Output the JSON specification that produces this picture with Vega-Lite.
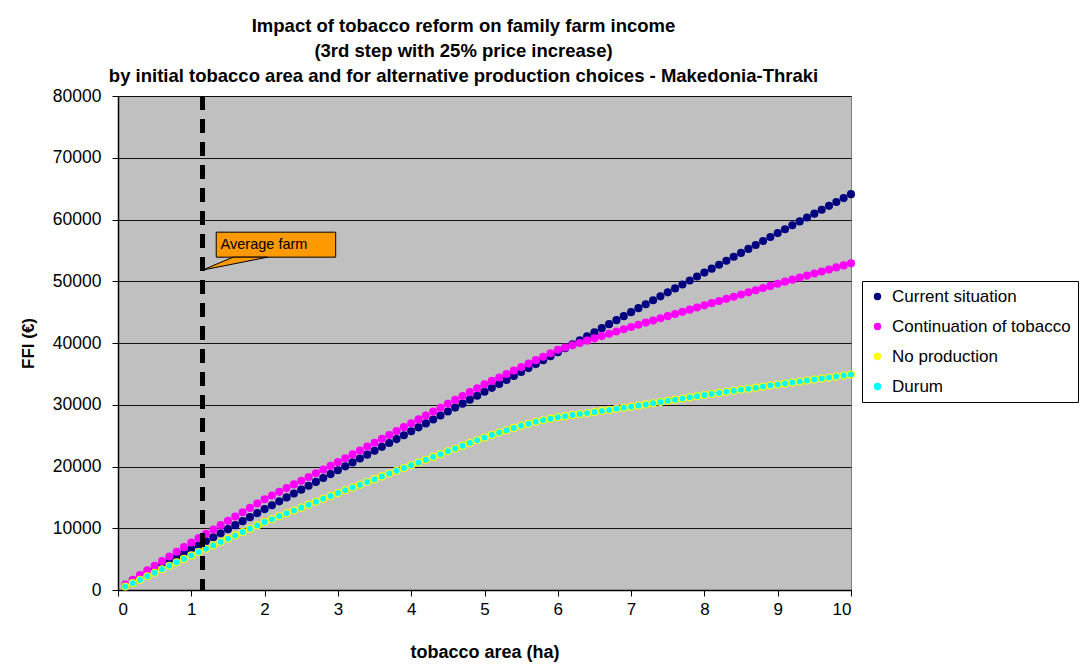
{
  "$schema": "https://vega.github.io/schema/vega-lite/v6.json",
  "width": 733,
  "height": 494,
  "autosize": "none",
  "padding": {"left": 118, "top": 96, "right": 235, "bottom": 76},
  "background": "white",
  "title": {
    "text": ["Impact of  tobacco reform on family farm income", "(3rd step with 25% price increase)", "by initial tobacco area and for alternative production choices - Makedonia-Thraki"],
    "font": "Liberation Sans Narrow, Liberation Sans",
    "fontSize": 18.5,
    "fontWeight": "bold",
    "color": "black",
    "lineHeight": 25,
    "anchor": "middle",
    "frame": "group",
    "dx": -21,
    "offset": 2
  },
  "config": {
    "view": {"fill": "#C0C0C0", "stroke": "#808080", "strokeWidth": 1},
    "axis": {"labelColor": "black", "titleColor": "black", "domainColor": "black", "tickColor": "black"}
  },
  "datasets": {
    "series": [
      {"x": 0.1, "cur": 600, "con": 900, "nop": 550, "dur": 550},
      {"x": 0.2, "cur": 1270, "con": 1660, "nop": 1110, "dur": 1110},
      {"x": 0.3, "cur": 1930, "con": 2410, "nop": 1670, "dur": 1670},
      {"x": 0.4, "cur": 2600, "con": 3170, "nop": 2230, "dur": 2230},
      {"x": 0.5, "cur": 3270, "con": 3920, "nop": 2790, "dur": 2790},
      {"x": 0.6, "cur": 3930, "con": 4680, "nop": 3360, "dur": 3360},
      {"x": 0.7, "cur": 4600, "con": 5430, "nop": 3920, "dur": 3920},
      {"x": 0.8, "cur": 5270, "con": 6190, "nop": 4480, "dur": 4480},
      {"x": 0.9, "cur": 5930, "con": 6940, "nop": 5040, "dur": 5040},
      {"x": 1.0, "cur": 6600, "con": 7700, "nop": 5600, "dur": 5600},
      {"x": 1.1, "cur": 7250, "con": 8400, "nop": 6140, "dur": 6140},
      {"x": 1.2, "cur": 7900, "con": 9100, "nop": 6680, "dur": 6680},
      {"x": 1.3, "cur": 8550, "con": 9800, "nop": 7220, "dur": 7220},
      {"x": 1.4, "cur": 9200, "con": 10500, "nop": 7760, "dur": 7760},
      {"x": 1.5, "cur": 9850, "con": 11200, "nop": 8300, "dur": 8300},
      {"x": 1.6, "cur": 10500, "con": 11900, "nop": 8840, "dur": 8840},
      {"x": 1.7, "cur": 11150, "con": 12600, "nop": 9380, "dur": 9380},
      {"x": 1.8, "cur": 11800, "con": 13300, "nop": 9920, "dur": 9920},
      {"x": 1.9, "cur": 12450, "con": 14000, "nop": 10460, "dur": 10460},
      {"x": 2.0, "cur": 13100, "con": 14700, "nop": 11000, "dur": 11000},
      {"x": 2.1, "cur": 13730, "con": 15300, "nop": 11470, "dur": 11470},
      {"x": 2.2, "cur": 14360, "con": 15900, "nop": 11940, "dur": 11940},
      {"x": 2.3, "cur": 14990, "con": 16500, "nop": 12410, "dur": 12410},
      {"x": 2.4, "cur": 15620, "con": 17100, "nop": 12880, "dur": 12880},
      {"x": 2.5, "cur": 16250, "con": 17700, "nop": 13350, "dur": 13350},
      {"x": 2.6, "cur": 16880, "con": 18300, "nop": 13820, "dur": 13820},
      {"x": 2.7, "cur": 17510, "con": 18900, "nop": 14290, "dur": 14290},
      {"x": 2.8, "cur": 18140, "con": 19500, "nop": 14760, "dur": 14760},
      {"x": 2.9, "cur": 18770, "con": 20100, "nop": 15230, "dur": 15230},
      {"x": 3.0, "cur": 19400, "con": 20700, "nop": 15700, "dur": 15700},
      {"x": 3.1, "cur": 20030, "con": 21330, "nop": 16150, "dur": 16150},
      {"x": 3.2, "cur": 20660, "con": 21960, "nop": 16600, "dur": 16600},
      {"x": 3.3, "cur": 21290, "con": 22590, "nop": 17050, "dur": 17050},
      {"x": 3.4, "cur": 21920, "con": 23220, "nop": 17500, "dur": 17500},
      {"x": 3.5, "cur": 22550, "con": 23850, "nop": 17950, "dur": 17950},
      {"x": 3.6, "cur": 23180, "con": 24480, "nop": 18400, "dur": 18400},
      {"x": 3.7, "cur": 23810, "con": 25110, "nop": 18850, "dur": 18850},
      {"x": 3.8, "cur": 24440, "con": 25740, "nop": 19300, "dur": 19300},
      {"x": 3.9, "cur": 25070, "con": 26370, "nop": 19750, "dur": 19750},
      {"x": 4.0, "cur": 25700, "con": 27000, "nop": 20200, "dur": 20200},
      {"x": 4.1, "cur": 26340, "con": 27630, "nop": 20650, "dur": 20650},
      {"x": 4.2, "cur": 26980, "con": 28260, "nop": 21100, "dur": 21100},
      {"x": 4.3, "cur": 27620, "con": 28890, "nop": 21550, "dur": 21550},
      {"x": 4.4, "cur": 28260, "con": 29520, "nop": 22000, "dur": 22000},
      {"x": 4.5, "cur": 28900, "con": 30150, "nop": 22450, "dur": 22450},
      {"x": 4.6, "cur": 29540, "con": 30780, "nop": 22900, "dur": 22900},
      {"x": 4.7, "cur": 30180, "con": 31410, "nop": 23350, "dur": 23350},
      {"x": 4.8, "cur": 30820, "con": 32040, "nop": 23800, "dur": 23800},
      {"x": 4.9, "cur": 31460, "con": 32670, "nop": 24250, "dur": 24250},
      {"x": 5.0, "cur": 32100, "con": 33300, "nop": 24700, "dur": 24700},
      {"x": 5.1, "cur": 32740, "con": 33860, "nop": 25100, "dur": 25100},
      {"x": 5.2, "cur": 33380, "con": 34420, "nop": 25500, "dur": 25500},
      {"x": 5.3, "cur": 34020, "con": 34980, "nop": 25880, "dur": 25880},
      {"x": 5.4, "cur": 34660, "con": 35540, "nop": 26250, "dur": 26250},
      {"x": 5.5, "cur": 35300, "con": 36100, "nop": 26600, "dur": 26600},
      {"x": 5.6, "cur": 35940, "con": 36660, "nop": 26930, "dur": 26930},
      {"x": 5.7, "cur": 36580, "con": 37220, "nop": 27230, "dur": 27230},
      {"x": 5.8, "cur": 37220, "con": 37780, "nop": 27500, "dur": 27500},
      {"x": 5.9, "cur": 37860, "con": 38340, "nop": 27750, "dur": 27750},
      {"x": 6.0, "cur": 38500, "con": 38900, "nop": 27980, "dur": 27980},
      {"x": 6.1, "cur": 39150, "con": 39270, "nop": 28150, "dur": 28150},
      {"x": 6.2, "cur": 39800, "con": 39640, "nop": 28320, "dur": 28320},
      {"x": 6.3, "cur": 40450, "con": 40010, "nop": 28490, "dur": 28490},
      {"x": 6.4, "cur": 41100, "con": 40380, "nop": 28660, "dur": 28660},
      {"x": 6.5, "cur": 41750, "con": 40750, "nop": 28830, "dur": 28830},
      {"x": 6.6, "cur": 42400, "con": 41120, "nop": 29000, "dur": 29000},
      {"x": 6.7, "cur": 43050, "con": 41490, "nop": 29170, "dur": 29170},
      {"x": 6.8, "cur": 43700, "con": 41860, "nop": 29340, "dur": 29340},
      {"x": 6.9, "cur": 44350, "con": 42230, "nop": 29510, "dur": 29510},
      {"x": 7.0, "cur": 45000, "con": 42600, "nop": 29680, "dur": 29680},
      {"x": 7.1, "cur": 45640, "con": 42950, "nop": 29870, "dur": 29870},
      {"x": 7.2, "cur": 46280, "con": 43300, "nop": 30060, "dur": 30060},
      {"x": 7.3, "cur": 46920, "con": 43650, "nop": 30250, "dur": 30250},
      {"x": 7.4, "cur": 47560, "con": 44000, "nop": 30440, "dur": 30440},
      {"x": 7.5, "cur": 48200, "con": 44350, "nop": 30630, "dur": 30630},
      {"x": 7.6, "cur": 48840, "con": 44700, "nop": 30820, "dur": 30820},
      {"x": 7.7, "cur": 49480, "con": 45050, "nop": 31010, "dur": 31010},
      {"x": 7.8, "cur": 50120, "con": 45400, "nop": 31200, "dur": 31200},
      {"x": 7.9, "cur": 50760, "con": 45750, "nop": 31390, "dur": 31390},
      {"x": 8.0, "cur": 51400, "con": 46100, "nop": 31580, "dur": 31580},
      {"x": 8.1, "cur": 52040, "con": 46450, "nop": 31750, "dur": 31750},
      {"x": 8.2, "cur": 52680, "con": 46800, "nop": 31920, "dur": 31920},
      {"x": 8.3, "cur": 53320, "con": 47150, "nop": 32090, "dur": 32090},
      {"x": 8.4, "cur": 53960, "con": 47500, "nop": 32260, "dur": 32260},
      {"x": 8.5, "cur": 54600, "con": 47850, "nop": 32430, "dur": 32430},
      {"x": 8.6, "cur": 55240, "con": 48200, "nop": 32600, "dur": 32600},
      {"x": 8.7, "cur": 55880, "con": 48550, "nop": 32770, "dur": 32770},
      {"x": 8.8, "cur": 56520, "con": 48900, "nop": 32940, "dur": 32940},
      {"x": 8.9, "cur": 57160, "con": 49250, "nop": 33110, "dur": 33110},
      {"x": 9.0, "cur": 57800, "con": 49600, "nop": 33280, "dur": 33280},
      {"x": 9.1, "cur": 58430, "con": 49930, "nop": 33440, "dur": 33440},
      {"x": 9.2, "cur": 59060, "con": 50260, "nop": 33600, "dur": 33600},
      {"x": 9.3, "cur": 59690, "con": 50590, "nop": 33760, "dur": 33760},
      {"x": 9.4, "cur": 60320, "con": 50920, "nop": 33920, "dur": 33920},
      {"x": 9.5, "cur": 60950, "con": 51250, "nop": 34080, "dur": 34080},
      {"x": 9.6, "cur": 61580, "con": 51580, "nop": 34240, "dur": 34240},
      {"x": 9.7, "cur": 62210, "con": 51910, "nop": 34400, "dur": 34400},
      {"x": 9.8, "cur": 62840, "con": 52240, "nop": 34560, "dur": 34560},
      {"x": 9.9, "cur": 63470, "con": 52570, "nop": 34720, "dur": 34720},
      {"x": 10.0, "cur": 64100, "con": 52900, "nop": 34880, "dur": 34880}
    ],
    "tail": [
      {"x": 1.15, "y": 51800, "y2": 51800},
      {"x": 1.57, "y": 53900, "y2": 52790},
      {"x": 2.04, "y": 53900, "y2": 53900}
    ],
    "box": [
      {"x": 1.34, "x2": 2.97, "y": 53900, "y2": 57950, "label": "Average farm", "lx": 1.4, "ly": 55900}
    ]
  },
  "data": {"name": "series"},
  "encoding": {
    "x": {
      "field": "x", "type": "quantitative",
      "scale": {"domain": [0, 10], "nice": false, "zero": false},
      "axis": {
        "title": "tobacco area (ha)", "values": [0,1,2,3,4,5,6,7,8,9,10], "format": "d",
        "grid": false, "labelFont": "Liberation Sans Narrow, Liberation Sans", "labelFontSize": 17,
        "titleFont": "Liberation Sans", "titleFontSize": 18, "titleFontWeight": "bold",
        "tickSize": 6, "labelPadding": 5, "titlePadding": 26, "domainWidth": 1.5
      }
    }
  },
  "layer": [
    {
      "mark": {"type": "point", "filled": true, "shape": "circle", "size": 66, "opacity": 1},
      "encoding": {
        "y": {
          "field": "cur", "type": "quantitative",
          "scale": {"domain": [0, 80000], "nice": false},
          "axis": {
            "title": "FFI (€)", "values": [0,10000,20000,30000,40000,50000,60000,70000,80000], "format": "d",
            "grid": true, "gridColor": "black", "gridWidth": 1.2, "gridOpacity": 0.9,
            "labelFont": "Liberation Sans", "labelFontSize": 17.5, "titleFont": "Liberation Sans", "titleFontSize": 17,
            "titleFontWeight": "bold", "tickSize": 6, "labelPadding": 11, "titlePadding": 15, "domainWidth": 1.5
          }
        },
        "color": {"datum": "Current situation", "type": "nominal",
          "scale": {"domain": ["Current situation", "Continuation of tobacco", "No production", "Durum"], "range": ["#000080", "#FF00FF", "#FFFF00", "#00FFFF"]},
          "legend": {
            "title": null, "orient": "none", "legendX": 744, "legendY": 185,
            "fillColor": "white", "strokeColor": "black", "padding": 7,
            "labelFont": "Liberation Sans", "labelFontSize": 17, "labelColor": "black", "labelLimit": 0,
            "symbolType": "circle", "symbolSize": 55, "symbolStrokeWidth": 0, "rowPadding": 12, "labelOffset": 6
          }
        }
      }
    },
    {
      "mark": {"type": "point", "filled": true, "shape": "circle", "size": 66, "opacity": 1},
      "encoding": {
        "y": {"field": "con", "type": "quantitative"},
        "color": {"datum": "Continuation of tobacco", "type": "nominal"}
      }
    },
    {
      "mark": {"type": "point", "filled": true, "shape": "circle", "size": 66, "opacity": 1},
      "encoding": {
        "y": {"field": "nop", "type": "quantitative"},
        "color": {"datum": "No production", "type": "nominal"}
      }
    },
    {
      "mark": {"type": "point", "filled": true, "shape": "circle", "size": 36, "opacity": 1},
      "encoding": {
        "y": {"field": "dur", "type": "quantitative"},
        "color": {"datum": "Durum", "type": "nominal"}
      }
    },
    {
      "mark": {"type": "rule", "color": "black", "strokeWidth": 4, "strokeDash": [14, 9]},
      "encoding": {"x": {"datum": 1.15}}
    },
    {
      "data": {"name": "box"},
      "mark": {"type": "rect", "fill": "#FF9900", "stroke": "black", "strokeWidth": 1},
      "encoding": {
        "x": {"field": "x"}, "x2": {"field": "x2"},
        "y": {"field": "y", "type": "quantitative"}, "y2": {"field": "y2"}
      }
    },
    {
      "data": {"name": "tail"},
      "mark": {"type": "area", "fill": "#FF9900", "stroke": "black", "strokeWidth": 1, "opacity": 1},
      "encoding": {
        "x": {"field": "x"},
        "y": {"field": "y", "type": "quantitative"}, "y2": {"field": "y2"}
      }
    },
    {
      "data": {"name": "box"},
      "mark": {"type": "text", "align": "left", "baseline": "middle", "font": "Liberation Sans", "fontSize": 14.5, "color": "black"},
      "encoding": {
        "x": {"field": "lx"},
        "y": {"field": "ly", "type": "quantitative"},
        "text": {"field": "label"}
      }
    }
  ]
}
